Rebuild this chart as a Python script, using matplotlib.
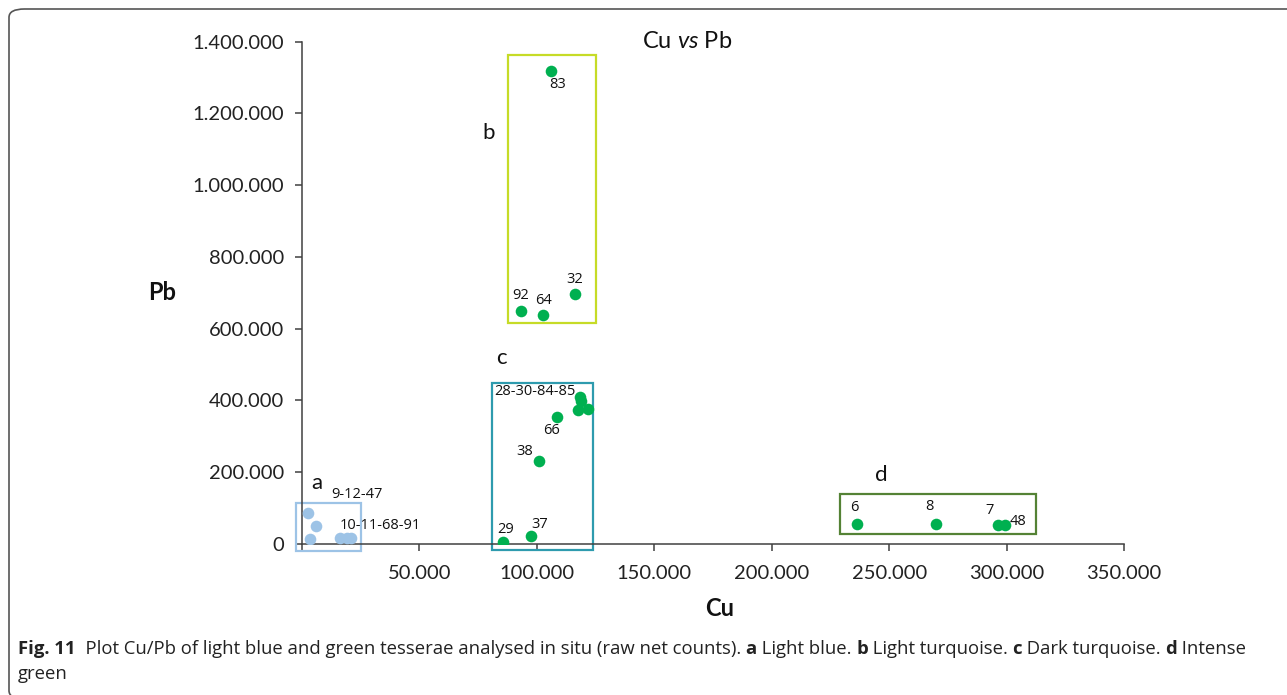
import matplotlib.pyplot as plt
from matplotlib.patches import Rectangle, FancyBboxPatch
from matplotlib.ticker import FuncFormatter

plt.rcParams['mathtext.fontset'] = 'custom'
plt.rcParams['mathtext.it'] = 'Lato:italic'
plt.rcParams['mathtext.rm'] = 'Lato'

# group a - light blue
a_cu = [2700, 6000, 3400, 16200, 19100, 21000]
a_pb = [87000, 51000, 15000, 16700, 16700, 16700]
# group b - light turquoise
b_cu = [106000, 116200, 93200, 102800]
b_pb = [1317000, 696000, 650600, 638700]
# group c - dark turquoise
c_cu = [118300, 118800, 117500, 121800, 108500, 101000, 85600, 97700]
c_pb = [410000, 399000, 373700, 376500, 355000, 232300, 6400, 23100]
# group d - intense green
d_cu = [236300, 269800, 296400, 299300]
d_pb = [56600, 56600, 53800, 53000]

# point labels
labels_a = ['9-12-47', '10-11-68-91']
labels_b = ['83', '32', '92', '64']
labels_c = ['28-30-84-85', '66', '38', '29', '37']
labels_d = ['6', '8', '7', '48']

# group boxes (cu_min, cu_max, pb_min, pb_max)
box_a = (-2400, 25000, -20000, 115000)
box_b = (87900, 125300, 617000, 1364000)
box_c = (81000, 123800, -16700, 450000)
box_d = (229200, 312500, 27900, 139500)

light_blue = '#9DC3E6'
green = '#00B050'

fig = plt.figure(figsize=(12.87, 6.95), dpi=100)
ax = fig.add_axes([302/1287, 1 - 544/695, 822/1287, (544 - 41.7)/695])

ax.scatter(a_cu, a_pb, s=70, color=light_blue, zorder=3, linewidths=0)
for xs, ys in [(b_cu, b_pb), (c_cu, c_pb), (d_cu, d_pb)]:
    ax.scatter(xs, ys, s=70, color=green, zorder=3, linewidths=0)

ax.set_xlim(0, 350000)
ax.set_ylim(0, 1400000)
ax.set_xticks(range(0, 350001, 50000))
ax.set_yticks(range(0, 1400001, 200000))
dots = FuncFormatter(lambda v, p: f'{int(v):,}'.replace(',', '.'))
ax.xaxis.set_major_formatter(FuncFormatter(lambda v, p: '' if v == 0 else f'{int(v):,}'.replace(',', '.')))
ax.yaxis.set_major_formatter(dots)

for s in ['top', 'right']:
    ax.spines[s].set_visible(False)
for s in ['left', 'bottom']:
    ax.spines[s].set_color('#404040')
    ax.spines[s].set_linewidth(1.1)
ax.tick_params(axis='both', length=5, width=1.1, color='#404040', labelsize=14.5, labelcolor='#222222')
ax.tick_params(axis='x', pad=10)
ax.tick_params(axis='y', pad=8)
for t in ax.get_xticklabels() + ax.get_yticklabels():
    t.set_family('Lato')

# boxes
for box, col in [(box_a, light_blue), (box_b, '#C6DB27'), (box_c, '#2E9BAE'), (box_d, '#548235')]:
    x0, x1, y0, y1 = box
    ax.add_patch(Rectangle((x0, y0), x1 - x0, y1 - y0, fill=False, edgecolor=col,
                           linewidth=1.6, clip_on=False, zorder=2))

# point labels, offsets in pixels
lab_kw = dict(textcoords='offset pixels', ha='center', va='center', fontsize=10.5,
              family='Open Sans', color='#111111', annotation_clip=False)
def put(txt, x, y, dx, dy):
    ax.annotate(txt, xy=(x, y), xytext=(dx, dy), **lab_kw)

put(labels_a[0], a_cu[0], a_pb[0], 49, 18)
put(labels_a[1], a_cu[5], a_pb[5], 29, 13)
put(labels_b[0], b_cu[0], b_pb[0], 7, -13)
put(labels_b[1], b_cu[1], b_pb[1], 0, 15)
put(labels_b[2], b_cu[2], b_pb[2], 0, 15)
put(labels_b[3], b_cu[3], b_pb[3], 0, 14)
put(labels_c[0], c_cu[0], c_pb[0], -45, 5)
put(labels_c[1], c_cu[4], c_pb[4], -5, -14)
put(labels_c[2], c_cu[5], c_pb[5], -15, 9)
put(labels_c[3], c_cu[6], c_pb[6], 3, 12)
put(labels_c[4], c_cu[7], c_pb[7], 8, 11)
put(labels_d[0], d_cu[0], d_pb[0], -3, 16)
put(labels_d[1], d_cu[1], d_pb[1], -6, 17)
put(labels_d[2], d_cu[2], d_pb[2], -9, 14)
put(labels_d[3], d_cu[3], d_pb[3], 13, 3)

# group letters next to the boxes
let_kw = dict(textcoords='offset pixels', ha='center', va='center', fontsize=16,
              family='Lato', color='#111111', annotation_clip=False)
for letter, box, dx, dy in [('a', box_a, 20, 20), ('b', box_b, -20, -78),
                            ('c', box_c, 9, 25), ('d', box_d, 41, 19)]:
    ax.annotate(letter, xy=(box[0], box[3]), xytext=(dx, dy), **let_kw)

# title and axis names
fig.text(687/1287, 1 - 41/695, r'Cu $\mathit{vs}$ Pb', ha='center', va='center', fontsize=17,
         family='Lato', color='#111111')
fig.text(162/1287, 1 - 292/695, 'Pb', ha='center', va='center', fontsize=17,
         family='Lato', fontweight='bold', color='#111111')
fig.text(720/1287, 1 - 608/695, 'Cu', ha='center', va='center', fontsize=17,
         family='Lato', fontweight='bold', color='#111111')

# rounded frame around the figure (bottom and right edges fall outside the picture)
fig.patches.append(FancyBboxPatch((9/1287, -4/695), 1.1, (695 - 5)/695,
                                  boxstyle='round,pad=0,rounding_size=0.012',
                                  transform=fig.transFigure, fill=False,
                                  edgecolor='#555555', linewidth=1.2))

# caption, written piece by piece so bold parts sit inline
cap = [('Fig. 11', 'bold'), ('  Plot Cu/Pb of light blue and green tesserae analysed in situ (raw net counts). ', 'normal'),
       ('a', 'bold'), (' Light blue. ', 'normal'), ('b', 'bold'), (' Light turquoise. ', 'normal'),
       ('c', 'bold'), (' Dark turquoise. ', 'normal'), ('d', 'bold'), (' Intense', 'normal')]
fig.canvas.draw()
r = fig.canvas.get_renderer()
x = 18
for txt, w in cap:
    t = fig.text(x/1287, 1 - 649/695, txt, ha='left', va='center', fontsize=13.3,
                 family='Open Sans', fontweight=w, color='#222222')
    x = t.get_window_extent(r).x1
fig.text(18/1287, 1 - 674/695, 'green', ha='left', va='center', fontsize=13.3,
         family='Open Sans', color='#222222')

fig.savefig('out.png', dpi=100)
